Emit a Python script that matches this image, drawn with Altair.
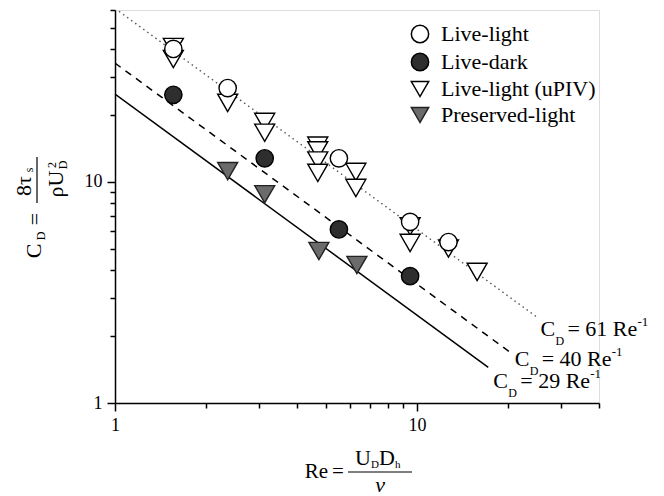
import altair as alt
import pandas as pd

FONT = "Liberation Serif"

# ---- data ----
series_names = ["Live-light", "Live-dark", "Live-light (uPIV)", "Preserved-light"]

re_live_light = [1.56, 2.36, 5.51, 9.48, 12.7]
cd_live_light = [40.0, 26.6, 12.8, 6.6, 5.35]

re_live_dark = [1.56, 3.13, 5.51, 9.48]
cd_live_dark = [24.8, 12.8, 6.1, 3.75]

re_upiv = [1.56, 1.56, 2.36, 3.13, 3.13, 4.69, 4.69, 4.69, 4.69, 6.27, 6.27, 9.48, 9.48, 12.7, 15.8]
cd_upiv = [40.8, 36.0, 22.8, 18.7, 16.7, 14.6, 13.9, 12.5, 11.0, 11.1, 9.4, 6.3, 5.3, 5.0, 3.92]

re_preserved = [2.36, 3.13, 4.73, 6.32]
cd_preserved = [11.2, 8.8, 4.87, 4.21]

# fitted lines (end points)
line_coef_text = ["61", "40", "29"]
line_re = [[1.0, 25.2], [1.0, 20.4], [1.0, 17.2]]
line_cd = [[61.0, 2.42], [34.5, 1.69], [25.0, 1.45]]

x_ticks = [1, 2, 3, 4, 5, 6, 7, 8, 9, 10, 20, 30, 40]
y_ticks = [1, 2, 3, 4, 5, 6, 7, 8, 9, 10, 20, 30, 40, 50, 60]

# ---- tables ----
def table(groups):
    rows = []
    for name, rs, cs in groups:
        for r, c in zip(rs, cs):
            rows.append({"re": r, "cd": c, "series": name})
    return pd.DataFrame(rows)


tri_df = table([("Live-light (uPIV)", re_upiv, cd_upiv), ("Preserved-light", re_preserved, cd_preserved)])
circ_df = table([("Live-light", re_live_light, cd_live_light), ("Live-dark", re_live_dark, cd_live_dark)])

OX, OY = 115, 10  # plot origin in the page
W, H = 484, 393

major = "datum.value == 1 || datum.value == 10"
tick_size = {"condition": {"test": major, "value": 8}, "value": 5}


def axis(vals):
    return alt.Axis(values=vals, labelExpr=f"({major}) ? datum.value : ''", tickSize=tick_size,
                    grid=False, domainColor="black", domainWidth=1.5, tickColor="black", tickWidth=1.5,
                    labelFont=FONT, labelFontSize=18, labelFontWeight="normal", labelColor="black",
                    labelPadding=5, labelFlush=False, labelOverlap=False, title=None)


xaxis = axis(x_ticks)
yaxis = axis(y_ticks)

xs = alt.Scale(type="log", domain=[1, 40], nice=False)
ys = alt.Scale(type="log", domain=[1, 60], nice=False)

leg = alt.Legend(orient="none", legendX=294, legendY=13, title=None, labelFont=FONT,
                 labelFontSize=22, labelFontWeight="normal", labelColor="black", symbolSize=300,
                 symbolStrokeColor="black", symbolStrokeWidth=1.5, rowPadding=4, labelOffset=10)

shape_enc = alt.Shape("series:N", scale=alt.Scale(domain=series_names,
                      range=["circle", "circle", "triangle-down", "triangle-down"]), legend=leg)
fill_enc = alt.Fill("series:N", scale=alt.Scale(domain=series_names,
                    range=["white", "#2e2e2e", "white", "#6b6b6b"]), legend=leg)
stroke_enc = alt.Stroke("series:N", scale=alt.Scale(domain=series_names,
                        range=["black", "black", "black", "#222222"]), legend=leg)


def point_layer(df, size):
    return alt.Chart(df).mark_point(filled=True, opacity=1, strokeWidth=1.4, size=size).encode(
        x=alt.X("re:Q", scale=xs, axis=xaxis),
        y=alt.Y("cd:Q", scale=ys, axis=yaxis),
        shape=shape_enc,
        fill=fill_enc,
        stroke=stroke_enc,
    )


tri_layer = point_layer(tri_df, 400)
circ_layer = point_layer(circ_df, 300)

line_styles = [
    dict(color="#555555", strokeWidth=1.4, strokeDash=[1.5, 3.5]),
    dict(color="black", strokeWidth=1.5, strokeDash=[7, 6]),
    dict(color="black", strokeWidth=1.5),
]
line_layers = []
for i in range(3):
    d = pd.DataFrame({"re": line_re[i], "cd": line_cd[i]})
    line_layers.append(alt.Chart(d).mark_line(clip=True, **line_styles[i]).encode(
        x=alt.X("re:Q", scale=xs), y=alt.Y("cd:Q", scale=ys)))

# annotations anchored at the line ends
ann_offsets = [(2, 18), (4, 13), (5, 21)]
ann_layers = []
for i in range(3):
    d = pd.DataFrame({"re": [line_re[i][1]], "cd": [line_cd[i][1]]})
    dx, dy = ann_offsets[i]
    pieces = [
        ("C", 0, 0, 22),
        ("D", 15, 9, 12),
        (f"= {line_coef_text[i]} Re", 27, 0, 22),
        ("-1", 97, -10, 13),
    ]
    for t, ox, oy, sz in pieces:
        ann_layers.append(alt.Chart(d).mark_text(
            text=t, font=FONT, fontSize=sz, color="black", align="left", baseline="alphabetic",
            dx=dx + ox, dy=dy + oy).encode(x=alt.X("re:Q", scale=xs), y=alt.Y("cd:Q", scale=ys)))

one = alt.Data(values=[{"a": 1}])


def txt(text, x, y, size=22, angle=0, align="left", style="normal"):
    props = dict(text=text, font=FONT, fontSize=size, color="black", align=align, baseline="alphabetic",
                 fontStyle=style)
    if angle:
        props["angle"] = angle
    return alt.Chart(one).mark_text(**props).encode(x=alt.value(x - OX), y=alt.value(y - OY))


def hbar(x1, x2, y):
    return alt.Chart(one).mark_rule(color="black", strokeWidth=1.2).encode(
        x=alt.value(x1 - OX), x2=alt.value(x2 - OX), y=alt.value(y - OY))


def vbar(x, y1, y2):
    return alt.Chart(one).mark_rule(color="black", strokeWidth=1.2).encode(
        x=alt.value(x - OX), y=alt.value(y1 - OY), y2=alt.value(y2 - OY))


titles = [
    # x title: Re = U_D D_h / nu
    txt("Re", 328, 478, size=21, align="right"),
    txt("=", 338, 478, size=21, align="center"),
    hbar(348, 412, 472),
    txt("U", 355, 465),
    txt("D", 371, 468, size=11),
    txt("D", 379, 465),
    txt("h", 395, 468, size=11),
    txt("ν", 380, 492, align="center", style="italic"),
    # y title: C_D = 8 tau_s / (rho U_D^2), rotated
    txt("C", 41, 251, angle=270, align="center"),
    txt("D", 45, 236, size=12, angle=270, align="center"),
    txt("=", 42, 219, angle=270, align="center"),
    vbar(37, 157, 203),
    txt("8τ", 31, 186, angle=270, align="center"),
    txt("s", 33, 170, size=12, angle=270, align="center"),
    txt("ρU", 63, 184, angle=270, align="center"),
    txt("2", 56, 165, size=12, angle=270, align="center"),
    txt("D", 67, 165, size=12, angle=270, align="center"),
]

chart = alt.layer(*line_layers, tri_layer, circ_layer, *ann_layers, *titles).properties(
    width=W, height=H,
    autosize=alt.AutoSizeParams(type="none"),
    padding={"left": OX, "top": OY, "right": 664 - OX - W, "bottom": 496 - OY - H},
).configure_view(stroke="transparent").configure(background="white")

chart.save("out.html", embed_options={"renderer": "svg", "actions": False})
